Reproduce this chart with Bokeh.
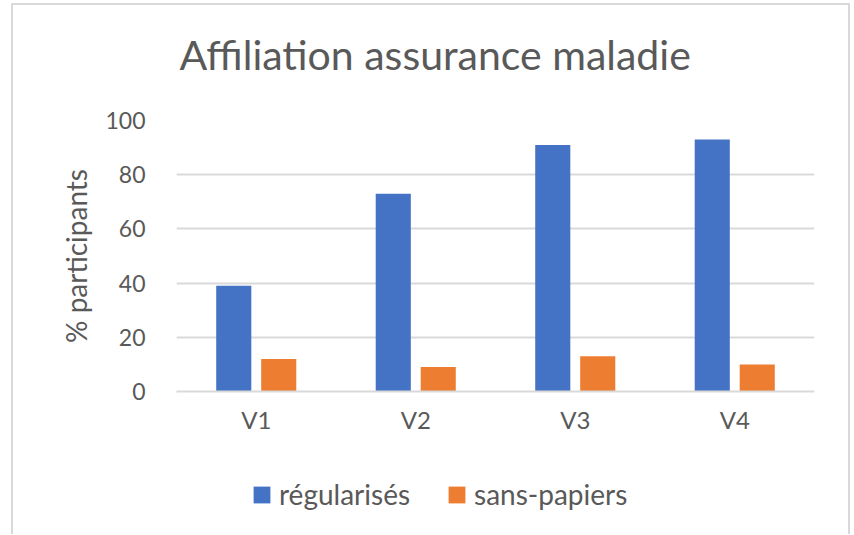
from bokeh.plotting import figure
from bokeh.layouts import column
from bokeh.models import ColumnDataSource, Range1d, FactorRange, Legend, LegendItem, Title, FixedTicker
from bokeh.transform import dodge
from bokeh.embed import file_html
from bokeh.resources import INLINE

categories = ["V1", "V2", "V3", "V4"]
regularises = [39, 73, 91, 93]
sans_papiers = [12, 9, 13, 10]
y_ticks = [0, 20, 40, 60, 80, 100]
series_names = ["régularisés", "sans-papiers"]
series_colors = ["#4472C4", "#ED7D31"]

FONT = "Lato"
GREY = "#595959"
BORDER = "#d9d9d9"

source = ColumnDataSource(data=dict(cat=categories, reg=regularises, sp=sans_papiers))

p = figure(width=835, height=455, x_range=FactorRange(*categories, range_padding=0),
           y_range=Range1d(0, 100), output_backend="svg", toolbar_location=None,
           frame_width=638, frame_height=271,
           min_border_left=163, min_border_right=34, min_border_top=115, min_border_bottom=69)
p.background_fill_color = "white"
p.border_fill_color = "white"
p.outline_line_color = None

p.vbar(x=dodge("cat", -0.141, range=p.x_range), top="reg", width=0.22, source=source,
       fill_color=series_colors[0], line_color=None)
p.vbar(x=dodge("cat", 0.141, range=p.x_range), top="sp", width=0.22, source=source,
       fill_color=series_colors[1], line_color=None)

# spacer then title (later-added above panels sit farther from the frame)
p.add_layout(Title(text=" ", text_font_size="1px", standoff=34), "above")
p.add_layout(Title(text="Affiliation assurance maladie", align="left", offset=3,
                   text_font=FONT, text_font_size="41px", text_font_style="normal",
                   text_color=GREY, standoff=10), "above")

# y axis
p.yaxis.ticker = FixedTicker(ticks=y_ticks)
p.yaxis.axis_line_color = None
p.yaxis.major_tick_line_color = None
p.yaxis.minor_tick_line_color = None
p.yaxis.major_label_text_font = FONT
p.yaxis.major_label_text_font_size = "23px"
p.yaxis.major_label_text_color = GREY
p.yaxis.major_label_standoff = 25
p.yaxis.axis_label = "% participants"
p.yaxis.axis_label_text_font = FONT
p.yaxis.axis_label_text_font_size = "28px"
p.yaxis.axis_label_text_font_style = "normal"
p.yaxis.axis_label_text_color = GREY
p.yaxis.axis_label_standoff = 9

# x axis
p.xaxis.axis_line_color = BORDER
p.xaxis.axis_line_width = 2
p.xaxis.major_tick_line_color = None
p.xaxis.minor_tick_line_color = None
p.xaxis.major_label_text_font = FONT
p.xaxis.major_label_text_font_size = "24px"
p.xaxis.major_label_text_color = GREY
p.xaxis.major_label_standoff = 7

p.xgrid.grid_line_color = None
p.ygrid.grid_line_color = BORDER
p.ygrid.grid_line_width = 2
p.ygrid.ticker = FixedTicker(ticks=y_ticks)

# legend strip (zero-height proxy bars only carry the legend swatches)
q = figure(width=835, height=74, x_range=Range1d(0, 1), y_range=Range1d(0, 1),
           output_backend="svg", toolbar_location=None,
           x_axis_location=None, y_axis_location=None, min_border=0)
q.outline_line_color = None
q.grid.grid_line_color = None
q.background_fill_color = "white"
q.border_fill_color = "white"
items = []
for name, color in zip(series_names, series_colors):
    proxy = ColumnDataSource(data=dict(x=[0], top=[0]))
    r = q.vbar(x="x", top="top", width=0.01, source=proxy, fill_color=color, line_color=None)
    items.append(LegendItem(label=name, renderers=[r]))

legend = Legend(items=items, orientation="horizontal", location=(75, 23),
                label_text_font=FONT, label_text_font_size="28px", label_text_color=GREY,
                glyph_width=21, glyph_height=21, spacing=36, label_standoff=7,
                border_line_color=None, background_fill_alpha=0, padding=4, margin=0)
q.add_layout(legend, "center")

layout = column(p, q, spacing=0)
layout.styles = {"border": f"2px solid {BORDER}", "border-bottom": "none",
                 "margin-left": "11px", "margin-top": "3px"}
open("out.html", "w").write(file_html(layout, INLINE))
